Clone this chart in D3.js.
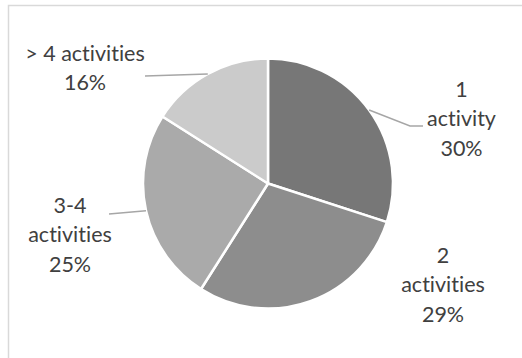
<!DOCTYPE html>
<html>
<head>
<meta charset="utf-8">
<script src="https://cdn.jsdelivr.net/npm/d3@7"></script>
<style>
  html, body { margin: 0; padding: 0; background: #fff; }
  svg { display: block; }
  text {
    font-family: Lato, "Open Sans", sans-serif;
    fill: #404040;
    font-variant-ligatures: none;
    font-feature-settings: "liga" 0, "clig" 0;
  }
</style>
</head>
<body>
<svg id="chart" width="522" height="358"></svg>
<script>
// Number of activities – share of respondents
const categories = ["1 activity", "2 activities", "3-4 activities", "> 4 activities"];
const labelLines = [["1", "activity"], ["2", "activities"], ["3-4", "activities"], ["> 4 activities"]];
const values = [30, 29, 25, 16];
const colors = ["#777777", "#8d8d8d", "#aaaaaa", "#cbcbcb"];

const width = 522, height = 358;
const cx = 268, cy = 183.5, radius = 125;
const fontSize = 21.5;
const lineH = 29.3;

const svg = d3.select("#chart");

// chart area frame
svg.append("rect")
  .attr("x", 8.5).attr("y", 5.5)
  .attr("width", width + 10).attr("height", height + 10)
  .attr("fill", "none").attr("stroke", "#d9d9d9").attr("stroke-width", 1.5);

const pie = d3.pie().sort(null).value(d => d)(values);
const arc = d3.arc().innerRadius(0).outerRadius(radius);

const g = svg.append("g").attr("transform", `translate(${cx},${cy})`);

g.selectAll("path.slice")
  .data(pie)
  .join("path")
  .attr("class", "slice")
  .attr("d", arc)
  .attr("fill", (d, i) => colors[i])
  .attr("stroke", "#fff")
  .attr("stroke-width", 2.5)
  .attr("stroke-linejoin", "round");

// label placement: text block centre x, first baseline y, and leader bend points
const labelLayout = [
  { x: 461.5, y: 97,  leader: [[410, 126], [423, 126]] },
  { x: 443,   y: 263, leader: null },
  { x: 70,    y: 213, leader: [[109, 214]] },
  { x: 85,    y: 61,  leader: [[145, 76]] }
];

const fmt = d3.format(".0%");
const total = d3.sum(values);

pie.forEach((d, i) => {
  const lay = labelLayout[i];
  if (lay.leader) {
    const mid = (d.startAngle + d.endAngle) / 2;
    const p0 = [cx + radius * Math.sin(mid), cy - radius * Math.cos(mid)];
    svg.append("path")
      .attr("d", d3.line()([p0, ...lay.leader]))
      .attr("fill", "none")
      .attr("stroke", "#a6a6a6")
      .attr("stroke-width", 1.5);
  }
  const lines = [...labelLines[i], fmt(values[i] / total)];
  const t = svg.append("text")
    .attr("text-anchor", "middle")
    .attr("font-size", fontSize);
  lines.forEach((s, k) => {
    t.append("tspan")
      .attr("x", lay.x)
      .attr("y", lay.y + k * lineH)
      .text(s);
  });
});
</script>
</body>
</html>
